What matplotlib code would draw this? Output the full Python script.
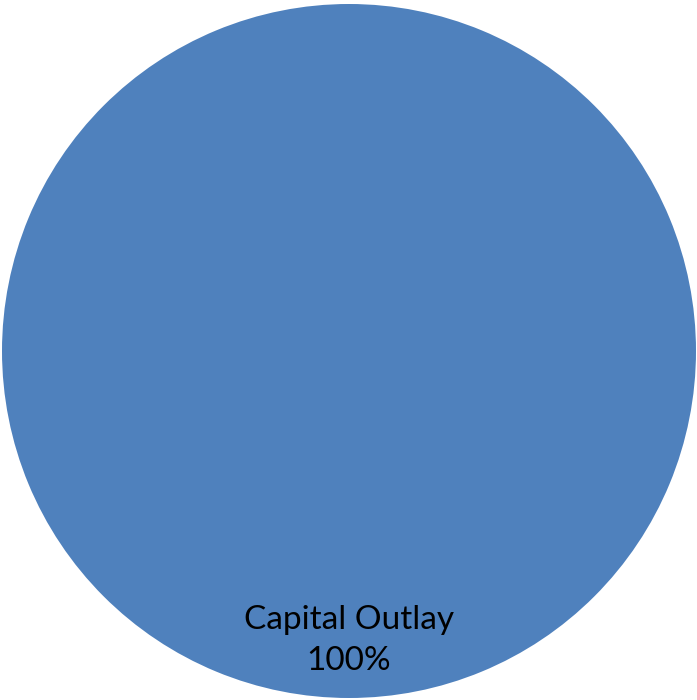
import matplotlib.pyplot as plt

categories = ['Capital Outlay']
values = [100]
colors = ['#4F81BD']

fig = plt.figure(figsize=(6.97, 7.0), dpi=100)
# circle centre at (349, 351) px from top-left, radius ~347 px
ax = fig.add_axes([2/697, 2/700, 694/697, 694/700])

labels = [f'{c}\n{v}%' for c, v in zip(categories, values)]
wedges, texts = ax.pie(values, colors=colors, labels=labels, startangle=90,
                       labeldistance=0.835, radius=1,
                       textprops=dict(family='Lato', fontsize=24, color='black',
                                      ha='center', va='center', linespacing=1.45))
ax.set_xlim(-1, 1)
ax.set_ylim(-1, 1)
ax.set_aspect('auto')
ax.axis('off')

fig.savefig('out.png', dpi=100)
